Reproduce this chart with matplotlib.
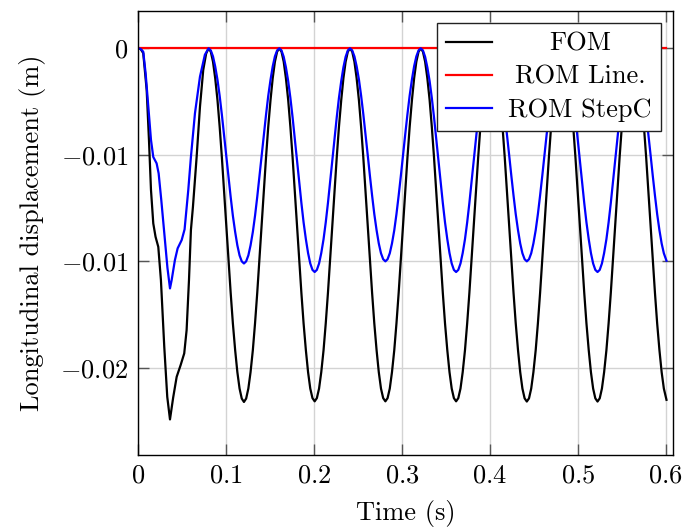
import matplotlib
matplotlib.use("Agg")
import matplotlib.pyplot as plt

plt.rcParams['font.family'] = 'cmr10'
plt.rcParams['mathtext.fontset'] = 'cm'
plt.rcParams['axes.formatter.use_mathtext'] = True

# transient part (first period)
t_fom_start = [0, 0.003, 0.006, 0.0099, 0.0125, 0.0148, 0.0174, 0.0200, 0.0231,
               0.0261, 0.0299, 0.0333, 0.0364, 0.0400, 0.0440, 0.0485, 0.0526,
               0.0553, 0.0580, 0.0602, 0.0625, 0.0667, 0.0705, 0.0742, 0.0775]
fom_start = [0, -0.00003, -0.00023, -0.00196, -0.0043, -0.00665, -0.00822, -0.00885,
             -0.00932, -0.01088, -0.01401, -0.01636, -0.01742, -0.01640, -0.01542,
             -0.01487, -0.01432, -0.01323, -0.01088, -0.00853, -0.00744, -0.0051,
             -0.00274, -0.00102, -0.00025]

t_stepc_start = [0, 0.003, 0.006, 0.0087, 0.0117, 0.0148, 0.0174, 0.0212, 0.0235,
                 0.0265, 0.0300, 0.0335, 0.0364, 0.0383, 0.0420, 0.0451, 0.0497,
                 0.0530, 0.0572, 0.0602, 0.0648, 0.0705, 0.0761]
stepc_start = [0, -0.00003, -0.00016, -0.00117, -0.00274, -0.0043, -0.0051, -0.0054,
               -0.00587, -0.00712, -0.00870, -0.0103, -0.01127, -0.01088, -0.00994,
               -0.00939, -0.0090, -0.0085, -0.00665, -0.0051, -0.00305, -0.00133,
               -0.0003]

# steady oscillation, one row per half period
t_steady = [
    0.0803, 0.0828, 0.0853, 0.0878, 0.0904, 0.0929, 0.0954, 0.0979, 0.1004, 0.1029, 0.1054, 0.1079, 0.1105, 0.1130, 0.1155, 0.1180,
    0.1205, 0.1230, 0.1255, 0.1280, 0.1306, 0.1331, 0.1356, 0.1381, 0.1406, 0.1431, 0.1456, 0.1481, 0.1507, 0.1532, 0.1557, 0.1582,
    0.1607, 0.1632, 0.1657, 0.1682, 0.1708, 0.1733, 0.1758, 0.1783, 0.1808, 0.1833, 0.1858, 0.1883, 0.1909, 0.1934, 0.1959, 0.1984,
    0.2009, 0.2034, 0.2059, 0.2084, 0.2110, 0.2135, 0.2160, 0.2185, 0.2210, 0.2235, 0.2260, 0.2285, 0.2311, 0.2336, 0.2361, 0.2386,
    0.2411, 0.2436, 0.2461, 0.2486, 0.2512, 0.2537, 0.2562, 0.2587, 0.2612, 0.2637, 0.2662, 0.2687, 0.2713, 0.2738, 0.2763, 0.2788,
    0.2813, 0.2838, 0.2863, 0.2888, 0.2914, 0.2939, 0.2964, 0.2989, 0.3014, 0.3039, 0.3064, 0.3089, 0.3115, 0.3140, 0.3165, 0.3190,
    0.3215, 0.3240, 0.3265, 0.3290, 0.3316, 0.3341, 0.3366, 0.3391, 0.3416, 0.3441, 0.3466, 0.3491, 0.3517, 0.3542, 0.3567, 0.3592,
    0.3617, 0.3642, 0.3667, 0.3692, 0.3718, 0.3743, 0.3768, 0.3793, 0.3818, 0.3843, 0.3868, 0.3893, 0.3919, 0.3944, 0.3969, 0.3994,
    0.4019, 0.4044, 0.4069, 0.4094, 0.4120, 0.4145, 0.4170, 0.4195, 0.4220, 0.4245, 0.4270, 0.4295, 0.4321, 0.4346, 0.4371, 0.4396,
    0.4421, 0.4446, 0.4471, 0.4496, 0.4522, 0.4547, 0.4572, 0.4597, 0.4622, 0.4647, 0.4672, 0.4697, 0.4723, 0.4748, 0.4773, 0.4798,
    0.4823, 0.4848, 0.4873, 0.4898, 0.4924, 0.4949, 0.4974, 0.4999, 0.5024, 0.5049, 0.5074, 0.5099, 0.5125, 0.5150, 0.5175, 0.5200,
    0.5225, 0.5250, 0.5275, 0.5300, 0.5326, 0.5351, 0.5376, 0.5401, 0.5426, 0.5451, 0.5476, 0.5501, 0.5527, 0.5552, 0.5577, 0.5602,
    0.5627, 0.5652, 0.5677, 0.5702, 0.5728, 0.5753, 0.5778, 0.5803, 0.5828, 0.5853, 0.5878, 0.5903, 0.5929, 0.5954, 0.5979, 0.6009,
]

fom_steady = [
    0, -0.00016, -0.00063, -0.0014, -0.00243, -0.00369, -0.00512, -0.00668, -0.0083, -0.00992, -0.01148, -0.01291, -0.01417, -0.0152, -0.01597, -0.01644,
    -0.0166, -0.01644, -0.01597, -0.0152, -0.01417, -0.01291, -0.01148, -0.00992, -0.0083, -0.00668, -0.00512, -0.00369, -0.00243, -0.0014, -0.00063, -0.00016,
    0, -0.00016, -0.00063, -0.0014, -0.00243, -0.00369, -0.00512, -0.00668, -0.0083, -0.00992, -0.01148, -0.01291, -0.01417, -0.0152, -0.01597, -0.01642,
    -0.01657, -0.01642, -0.01597, -0.0152, -0.01417, -0.01291, -0.01148, -0.00992, -0.0083, -0.00668, -0.00512, -0.00369, -0.00243, -0.0014, -0.00063, -0.00016,
    0, -0.00016, -0.00063, -0.0014, -0.00243, -0.00369, -0.00512, -0.00668, -0.0083, -0.00992, -0.01148, -0.01291, -0.01417, -0.0152, -0.01597, -0.01642,
    -0.01657, -0.01642, -0.01597, -0.0152, -0.01417, -0.01291, -0.01148, -0.00992, -0.0083, -0.00668, -0.00512, -0.00369, -0.00243, -0.0014, -0.00063, -0.00016,
    0, -0.00016, -0.00063, -0.0014, -0.00243, -0.00369, -0.00512, -0.00668, -0.0083, -0.00992, -0.01148, -0.01291, -0.01417, -0.0152, -0.01597, -0.01642,
    -0.01657, -0.01642, -0.01597, -0.0152, -0.01417, -0.01291, -0.01148, -0.00992, -0.0083, -0.00668, -0.00512, -0.00369, -0.00243, -0.0014, -0.00063, -0.00016,
    0, -0.00016, -0.00063, -0.0014, -0.00243, -0.00369, -0.00512, -0.00668, -0.0083, -0.00992, -0.01148, -0.01291, -0.01417, -0.0152, -0.01597, -0.01643,
    -0.01658, -0.01643, -0.01597, -0.0152, -0.01417, -0.01291, -0.01148, -0.00992, -0.0083, -0.00668, -0.00512, -0.00369, -0.00243, -0.0014, -0.00063, -0.00016,
    0, -0.00016, -0.00063, -0.0014, -0.00243, -0.00369, -0.00512, -0.00668, -0.0083, -0.00992, -0.01148, -0.01291, -0.01417, -0.0152, -0.01597, -0.01643,
    -0.01658, -0.01643, -0.01597, -0.0152, -0.01417, -0.01291, -0.01148, -0.00992, -0.0083, -0.00668, -0.00512, -0.00369, -0.00243, -0.0014, -0.00063, -0.00016,
    0, -0.00016, -0.00063, -0.0014, -0.00243, -0.00369, -0.00512, -0.00668, -0.0083, -0.00992, -0.01148, -0.01291, -0.01417, -0.0152, -0.01597, -0.0165,
]

stepc_steady = [
    0, -0.0001, -0.00038, -0.00085, -0.00148, -0.00224, -0.00312, -0.00407, -0.00505, -0.00603, -0.00698, -0.00786, -0.00862, -0.00925, -0.00972, -0.0100,
    -0.0101, -0.0100, -0.00972, -0.00925, -0.00862, -0.00786, -0.00698, -0.00603, -0.00505, -0.00407, -0.00312, -0.00224, -0.00148, -0.00085, -0.00038, -0.0001,
    0, -0.0001, -0.0004, -0.00089, -0.00154, -0.00233, -0.00324, -0.00423, -0.00525, -0.00627, -0.00726, -0.00817, -0.00896, -0.00961, -0.0101, -0.0104,
    -0.0105, -0.0104, -0.0101, -0.00961, -0.00896, -0.00817, -0.00726, -0.00627, -0.00525, -0.00423, -0.00324, -0.00233, -0.00154, -0.00089, -0.0004, -0.0001,
    0, -0.0001, -0.00038, -0.00084, -0.00146, -0.00222, -0.00309, -0.00403, -0.005, -0.00598, -0.00691, -0.00778, -0.00854, -0.00916, -0.00962, -0.0099,
    -0.0100, -0.0099, -0.00962, -0.00916, -0.00854, -0.00778, -0.00691, -0.00598, -0.005, -0.00403, -0.00309, -0.00222, -0.00146, -0.00084, -0.00038, -0.0001,
    0, -0.0001, -0.0004, -0.00089, -0.00154, -0.00233, -0.00324, -0.00423, -0.00525, -0.00627, -0.00726, -0.00817, -0.00896, -0.00961, -0.0101, -0.0104,
    -0.0105, -0.0104, -0.0101, -0.00961, -0.00896, -0.00817, -0.00726, -0.00627, -0.00525, -0.00423, -0.00324, -0.00233, -0.00154, -0.00089, -0.0004, -0.0001,
    0, -0.0001, -0.00038, -0.00084, -0.00146, -0.00222, -0.00309, -0.00403, -0.005, -0.00598, -0.00691, -0.00778, -0.00854, -0.00916, -0.00962, -0.0099,
    -0.0100, -0.0099, -0.00962, -0.00916, -0.00854, -0.00778, -0.00691, -0.00598, -0.005, -0.00403, -0.00309, -0.00222, -0.00146, -0.00084, -0.00038, -0.0001,
    0, -0.0001, -0.0004, -0.00089, -0.00154, -0.00233, -0.00324, -0.00423, -0.00525, -0.00627, -0.00726, -0.00817, -0.00896, -0.00961, -0.0101, -0.0104,
    -0.0105, -0.0104, -0.0101, -0.00961, -0.00896, -0.00817, -0.00726, -0.00627, -0.00525, -0.00423, -0.00324, -0.00233, -0.00154, -0.00089, -0.0004, -0.0001,
    0, -0.0001, -0.00038, -0.00084, -0.00146, -0.00222, -0.00309, -0.00403, -0.005, -0.00598, -0.00691, -0.00778, -0.00854, -0.00916, -0.00962, -0.00997,
]

t_line = [0, 0.6009]
rom_line = [0, 0]

yticks = [-0.015, -0.01, -0.005, 0]
ytick_labels = ['$-0.02$', '$-0.01$', '$-0.01$', '$0$']
xticks = [0, 0.1, 0.2, 0.3, 0.4, 0.5, 0.6]
xtick_labels = ['$0$', '$0.1$', '$0.2$', '$0.3$', '$0.4$', '$0.5$', '$0.6$']

fs = 19

fig = plt.figure(figsize=(6.82, 5.30), dpi=100)
ax = fig.add_axes([0.2023, 0.1415, 0.7841, 0.8377])

ax.plot(t_fom_start + t_steady, fom_start + fom_steady, color='black', lw=1.6, label='FOM')
ax.plot(t_line, rom_line, color='red', lw=1.6, label='ROM Line.')
ax.plot(t_stepc_start + t_steady, stepc_start + stepc_steady, color='blue', lw=1.6, label='ROM StepC')

ax.set_xlim(0, 0.608)
ax.set_ylim(-0.01909, 0.00175)
ax.set_xticks(xticks)
ax.set_xticklabels(xtick_labels)
ax.set_yticks(yticks)
ax.set_yticklabels(ytick_labels)

ax.grid(True, color='#d3d3d3', lw=1.0)
ax.set_axisbelow(True)
ax.tick_params(direction='in', length=8, width=1.0, color='#555555',
               top=True, right=True, labelsize=fs)
ax.tick_params(axis='y', pad=7)
ax.tick_params(axis='x', pad=6)
for s in ax.spines.values():
    s.set_linewidth(1.0)

ax.set_xlabel('Time (s)', fontsize=fs, labelpad=9)
ax.set_ylabel('Longitudinal displacement (m)', fontsize=fs, labelpad=10.5)

leg = ax.legend(loc='upper right', fontsize=fs, fancybox=False, framealpha=1,
                edgecolor='#222222', handlelength=1.75, labelspacing=0.35,
                borderaxespad=0.45, borderpad=0.35, handletextpad=0.6)
leg.get_frame().set_linewidth(1.0)

# center the legend texts like pgfplots does
fig.canvas.draw()
renderer = fig.canvas.get_renderer()
widths = [t.get_window_extent(renderer).width for t in leg.get_texts()]
widest = max(widths)
for t, w in zip(leg.get_texts(), widths):
    t.set_position(((widest - w) / 2, 0))

fig.savefig('out.png', dpi=100)
